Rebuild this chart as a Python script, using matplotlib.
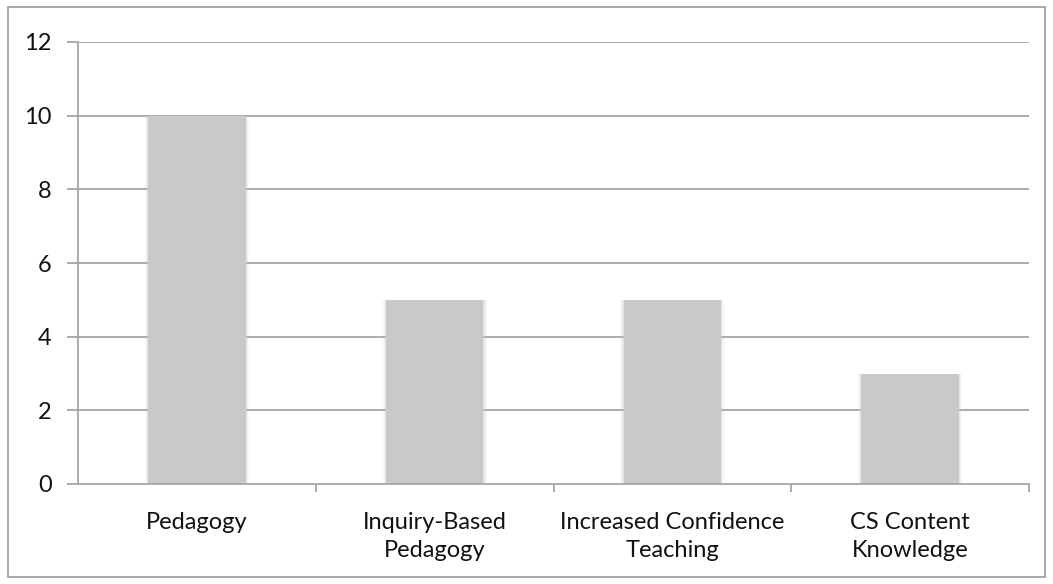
import matplotlib
matplotlib.use("Agg")
import matplotlib.pyplot as plt
from matplotlib.patches import Rectangle

categories = ["Pedagogy", "Inquiry-Based\nPedagogy", "Increased Confidence\nTeaching", "CS Content\nKnowledge"]
values = [10, 5, 5, 3]
yticks = [0, 2, 4, 6, 8, 10, 12]

plt.rcParams['font.family'] = ['Lato', 'DejaVu Sans']

W, H = 1053, 584
fig = plt.figure(figsize=(W / 100, H / 100), dpi=100)
fig.patch.set_facecolor("white")

# outer chart border
fig.add_artist(Rectangle((8 / W, 1 - 577 / H), (1045 - 8) / W, (577 - 7) / H,
                         transform=fig.transFigure, fill=False,
                         edgecolor="#9a9a9a", linewidth=1.2))

ax = fig.add_axes([78 / W, 1 - 484 / H, (1029 - 78) / W, (484 - 42) / H])
ax.set_xlim(-0.5, len(categories) - 0.5)
ax.set_ylim(0, 12)

grid_c = "#a6a6a6"
for y in yticks[1:]:
    ax.axhline(y, color=grid_c, linewidth=1.3, zorder=1)

x = range(len(categories))
bw = 0.41
# soft shading around the bars
for extra, alpha in [(0.030, 0.10), (0.020, 0.15), (0.010, 0.25)]:
    ax.bar(x, values, width=bw + extra, color="#c9c9c9", alpha=alpha, zorder=2, linewidth=0)
ax.bar(x, values, width=bw, color="#c9c9c9", zorder=3, linewidth=0)

for side in ["top", "right"]:
    ax.spines[side].set_visible(False)
for side in ["left", "bottom"]:
    ax.spines[side].set_color(grid_c)
    ax.spines[side].set_linewidth(1.3)
    ax.spines[side].set_zorder(4)

fs = 17
ax.set_yticks(yticks)
ax.set_yticklabels([str(v) for v in yticks], fontsize=fs, color="#111111")
ax.tick_params(axis="y", length=8, width=1.3, color=grid_c, pad=11)

# category boundary ticks on the x axis
ax.set_xticks([i + 0.5 for i in range(len(categories))], minor=False)
ax.set_xticklabels([])
ax.tick_params(axis="x", which="major", length=6, width=1.3, color=grid_c, direction="out")
ax.set_xticks(list(x), minor=True)
ax.set_xticklabels(categories, minor=True, fontsize=fs, linespacing=1.4, color="#111111")
ax.tick_params(axis="x", which="minor", length=0, pad=20)

fig.savefig("out.png", dpi=100, facecolor="white")
